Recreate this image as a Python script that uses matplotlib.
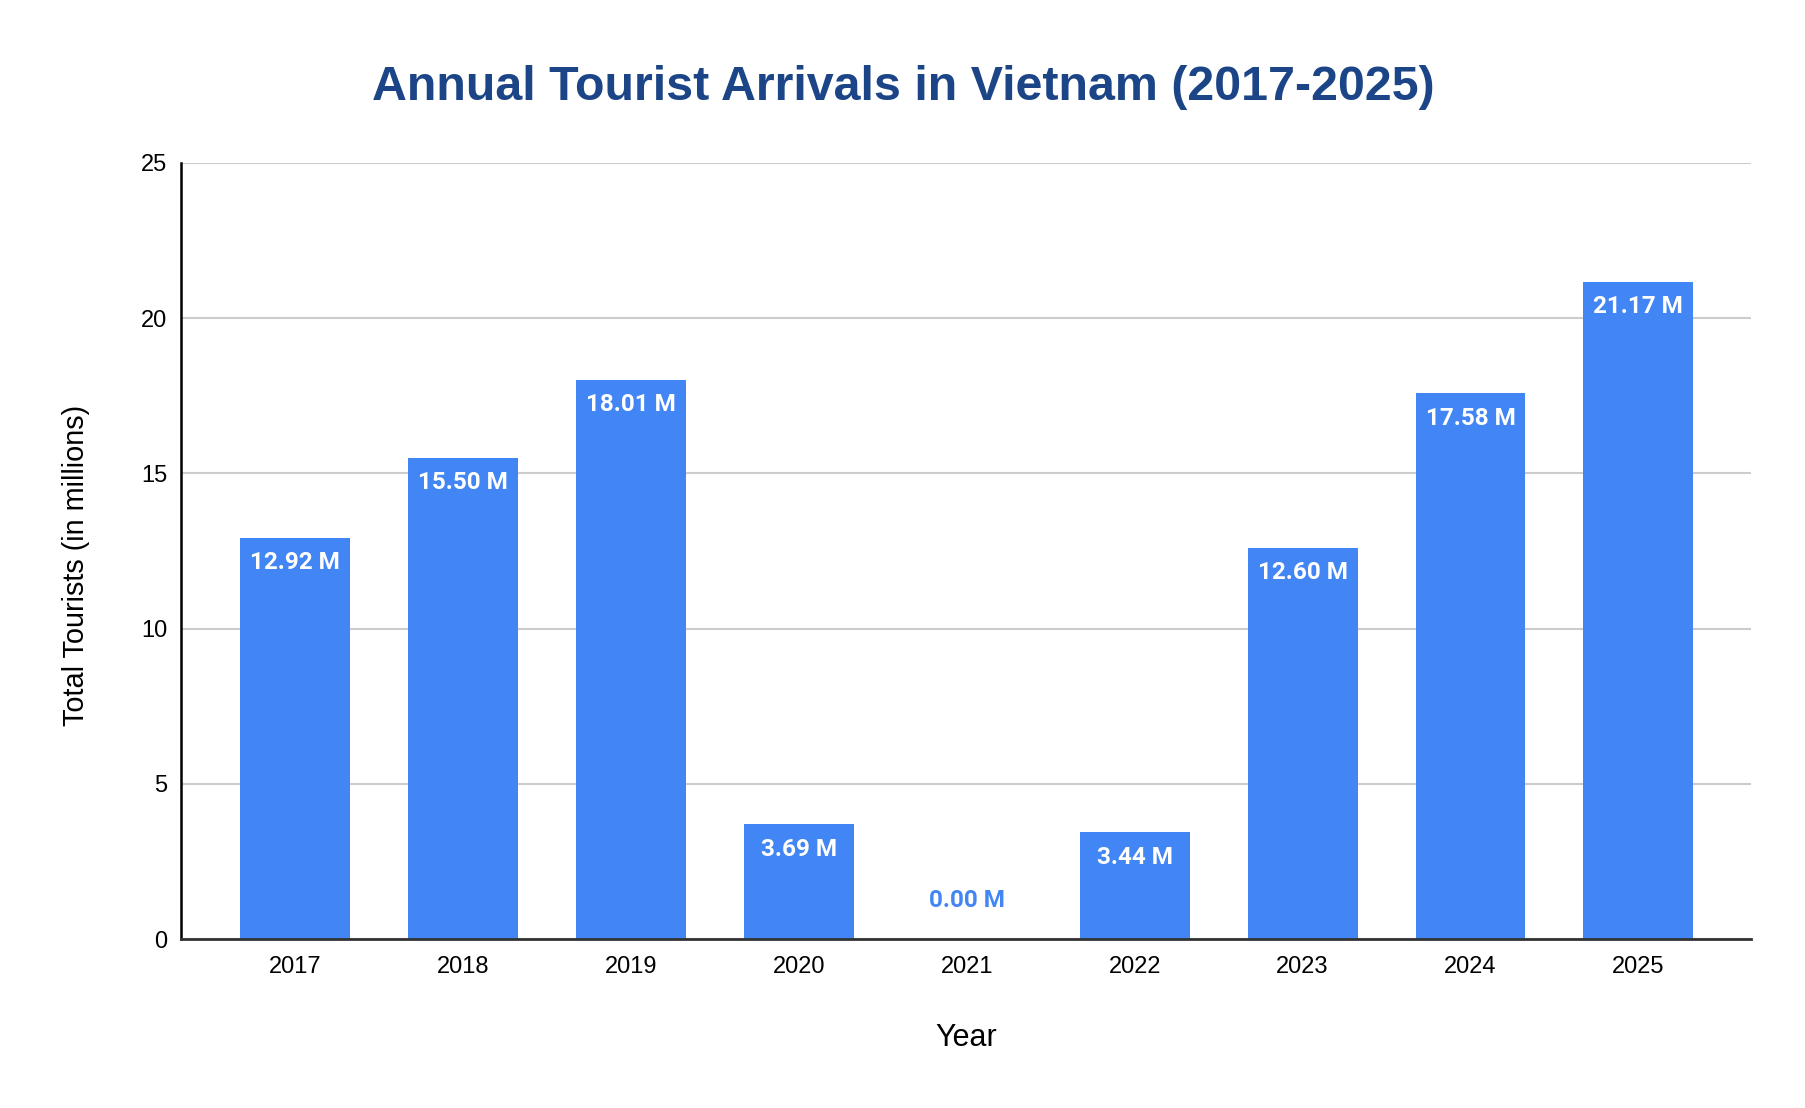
import matplotlib
matplotlib.use("Agg")
import matplotlib.pyplot as plt

years = ["2017", "2018", "2019", "2020", "2021", "2022", "2023", "2024", "2025"]
tourists = [12.92, 15.50, 18.01, 3.69, 0.00, 3.44, 12.60, 17.58, 21.17]
yticks = [0, 5, 10, 15, 20, 25]

BAR = "#4285f4"
fig = plt.figure(figsize=(18.06, 11.08), dpi=100)
ax = fig.add_axes([0.1002, 0.1525, 0.8693, 0.7004])

x = list(range(len(years)))
bars = ax.bar(x, tourists, width=0.655, color=BAR, zorder=3)

for xi, v in zip(x, tourists):
    if v > 1.5:
        ax.annotate(f"{v:.2f} M", (xi, v), xytext=(0, -18), textcoords="offset points",
                    ha="center", va="center", color="white", fontsize=17.5,
                    fontweight="bold", family="Roboto", zorder=4)
    else:
        ax.annotate(f"{v:.2f} M", (xi, v), xytext=(0, 27.4), textcoords="offset points",
                    ha="center", va="center", color=BAR, fontsize=17.5,
                    fontweight="bold", family="Roboto", zorder=4)

ax.set_xlim(-0.68, 8.67)
ax.set_ylim(0, 25)
ax.set_yticks(yticks)
ax.set_xticks(x)
ax.set_xticklabels(years)
ax.tick_params(axis="both", length=0, labelsize=17, labelcolor="#000000")
ax.tick_params(axis="x", pad=12)
ax.tick_params(axis="y", pad=10)
for lab in ax.get_xticklabels() + ax.get_yticklabels():
    lab.set_family("Liberation Sans")

ax.grid(axis="y", color="#cccccc", linewidth=1.5, zorder=0)
ax.set_axisbelow(True)
for s in ["top", "right"]:
    ax.spines[s].set_visible(False)
ax.spines["left"].set_color("#000000")
ax.spines["left"].set_linewidth(1.8)
ax.spines["left"].set_zorder(5)
ax.spines["bottom"].set_color("#333333")
ax.spines["bottom"].set_linewidth(2)
ax.spines["bottom"].set_zorder(5)

ax.set_ylabel("Total Tourists (in millions)", fontsize=20.8, family="Liberation Sans",
              color="#000000", va="center", ha="center")
ax.yaxis.set_label_coords(-0.067, 0.482)
ax.set_xlabel("Year", fontsize=22, family="Liberation Sans", color="#000000",
              va="center", ha="center")
ax.xaxis.set_label_coords(0.5, -0.1276)

fig.text(0.5, 0.921, "Annual Tourist Arrivals in Vietnam (2017-2025)", ha="center", va="center",
         fontsize=34.8, fontweight="bold", family="Liberation Sans", color="#1c4587")

fig.savefig("out.png", dpi=100, facecolor="white")
